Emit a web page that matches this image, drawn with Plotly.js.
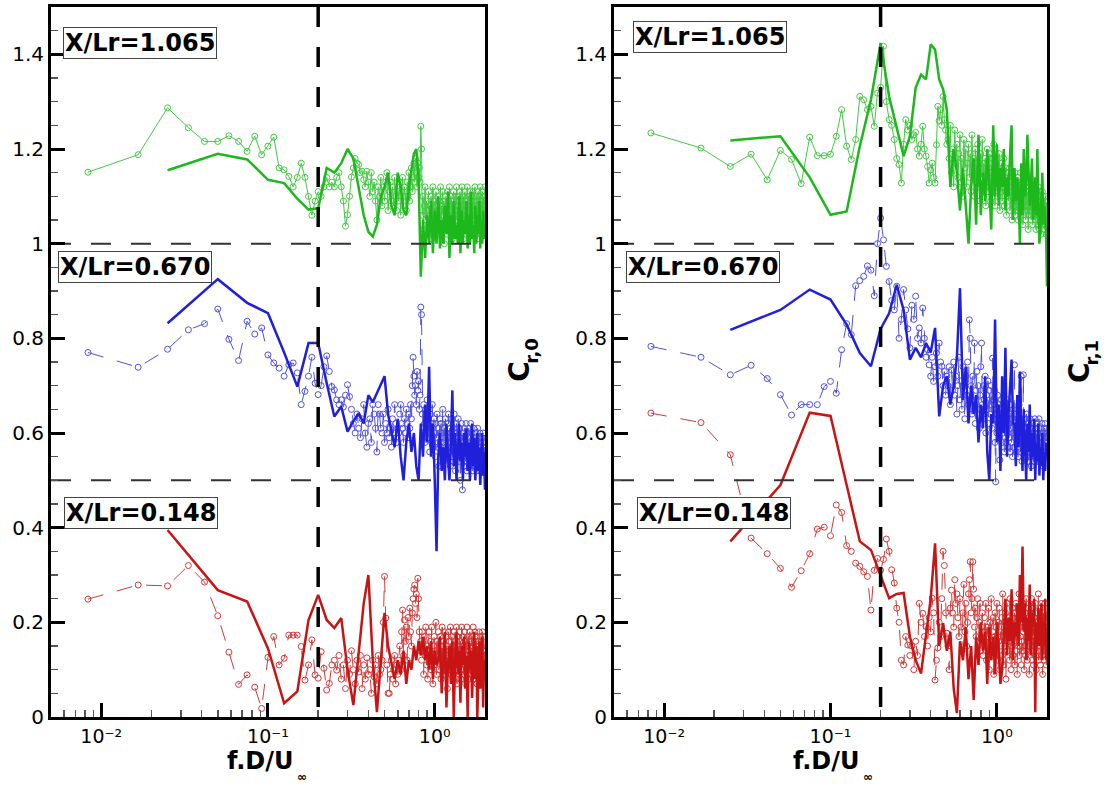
<!DOCTYPE html>
<html><head><meta charset="utf-8">
<script src="https://cdn.plot.ly/plotly-3.0.1.min.js"></script>
<style>html,body{margin:0;padding:0;background:#fff}#chart{width:1108px;height:789px}</style>
</head><body><div id="chart"></div>
<script>
// ---- frequency bins (f.D/U) ----
const MARK_F0 = 0.00833, MARK_DF = 0.00833;   // spectrum with circle markers
const LINE_F0 = 0.025,   LINE_DF = 0.025;     // spectrum drawn as thick line
const X_MIN = 0.005, X_MAX = 2;
const Y_MIN = 0, Y_MAX = 1.5;
const REF_FREQ = 0.2;
const OFFSET_LEVELS = [0.5, 1.0];
const xTickVals = [0.01, 0.1, 1];
const xTickText = ['10\u207B\u00B2', '10\u207B\u00B9', '10\u2070'];
const yTickVals = [0,0.2,0.4,0.6,0.8,1,1.2,1.4];
const stations = ['X/Lr=1.065', 'X/Lr=0.670', 'X/Lr=0.148'];
const yTitleMain = 'C';
const yTitleSubs = ['r,0', 'r,1'];
const xTitleMain = 'f.D/U';
const xTitleSub = '\u221E';

// ---- left panel C_r,0 ----
const L_green_mark = [
1.151,1.188,1.287,1.245,1.216,1.216,1.228,1.216,1.195,1.227,
1.188,1.206,1.225,1.160,1.156,1.142,1.12,1.14,1.17,1.14,
1.10,1.06,1.09,1.11,1.10,1.12,1.14,1.12,1.13,1.12,
1.14,1.15,1.12,1.09,1.037,1.061,1.10,1.141,1.16,1.18,
1.17,1.167,1.15,1.153,1.135,1.12,1.153,1.13,1.10,1.15,
1.11,1.13,1.09,1.05,1.12,1.10,1.14,1.08,1.12,1.09,
1.13,1.15,1.07,1.11,1.13,1.09,1.12,1.08,1.14,1.10,
1.07,1.11,1.09,1.13,1.06,1.11,1.14,1.08,1.12,1.10,
1.07,1.13,1.10,1.15,1.09,1.12,1.16,1.11,1.14,1.17,
1.13,1.18,1.15,1.12,1.17,1.14,1.16,1.13,1.248,1.20,
1.06,1.10,1.03,1.08,1.12,1.05,1.09,1.02,1.07,1.11,
1.04,1.08,1.06,1.10,1.01,1.07,1.12,1.05,1.09,1.03,
1.08,1.11,1.04,1.06,1.10,1.02,1.07,1.09,1.05,1.12,
1.03,1.08,1.06,1.11,1.04,1.09,1.00,1.07,1.10,1.05,
1.08,1.02,1.11,1.06,1.09,1.04,1.12,1.07,1.03,1.10,
1.06,1.09,1.01,1.08,1.05,1.11,1.04,1.07,1.10,1.03,
1.08,1.12,1.05,1.07,1.02,1.10,1.06,1.09,1.04,1.11,
1.07,1.03,1.09,1.05,1.12,1.06,1.08,1.01,1.10,1.04,
1.07,1.11,1.05,1.09,1.03,1.08,1.06,1.12,1.04,1.07,
1.10,1.02,1.08,1.05,1.11,1.06,1.09,1.03,1.07,1.10,
1.05,1.08,1.02,1.11,1.06,1.09,1.04,1.07,1.12,1.05,
1.08,1.03,1.10,1.06,1.09,1.01,1.07,1.11,1.04,1.08,
1.05,1.10,1.03,1.07,1.12,1.06,1.02,1.09,1.05,1.08,
1.11,1.04,1.07,1.03,1.09,1.06,1.10,1.02,1.08,1.12];
const L_green_line = [
1.155,1.19,1.178,1.135,1.128,1.095,1.072,1.075,1.16,1.15,
1.17,1.20,1.18,1.12,1.06,1.025,1.015,1.04,1.10,1.12,
1.15,1.08,1.06,1.15,1.12,1.07,1.06,1.12,1.16,1.19,
1.20,1.14,0.93,1.05,0.97,1.06,1.00,1.09,0.98,1.07,
1.00,1.10,0.99,1.05,1.00,1.08,1.02,1.11,0.97,1.06,
1.00,1.09,1.01,1.04,1.00,1.10,0.98,1.07,1.00,1.05,
1.02,1.09,0.99,1.06,1.00,1.11,1.01,1.04,0.98,1.08,
1.00,1.06,1.02,1.09,0.99,1.05,1.00,1.07,1.01,1.04];
const L_blue_mark = [
0.770,0.739,0.777,0.818,0.831,0.862,0.798,0.753,0.836,0.809,
0.822,0.765,0.748,0.737,0.72,0.744,0.748,0.727,0.66,0.688,
0.72,0.76,0.705,0.681,0.70,0.74,0.763,0.73,0.698,0.691,
0.67,0.66,0.67,0.655,0.68,0.702,0.677,0.65,0.62,0.60,
0.64,0.61,0.59,0.63,0.66,0.60,0.57,0.62,0.63,0.58,
0.66,0.64,0.61,0.56,0.66,0.64,0.61,0.60,0.64,0.58,
0.62,0.60,0.65,0.59,0.61,0.57,0.63,0.60,0.66,0.62,
0.58,0.61,0.60,0.64,0.66,0.62,0.61,0.58,0.63,0.60,
0.65,0.62,0.59,0.64,0.61,0.66,0.63,0.70,0.76,0.72,
0.68,0.70,0.66,0.73,0.69,0.71,0.65,0.68,0.866,0.85,
0.64,0.60,0.66,0.62,0.58,0.65,0.61,0.67,0.59,0.63,
0.60,0.56,0.64,0.61,0.58,0.66,0.62,0.57,0.63,0.60,
0.55,0.62,0.59,0.64,0.57,0.61,0.53,0.60,0.63,0.58,
0.62,0.56,0.60,0.65,0.58,0.54,0.61,0.59,0.63,0.57,
0.60,0.55,0.62,0.58,0.64,0.56,0.59,0.61,0.53,0.60,
0.57,0.63,0.59,0.55,0.61,0.58,0.64,0.56,0.60,0.52,
0.58,0.62,0.55,0.60,0.57,0.63,0.59,0.54,0.61,0.57,
0.50,0.59,0.55,0.62,0.58,0.48,0.56,0.60,0.57,0.53,
0.61,0.56,0.59,0.54,0.62,0.57,0.52,0.60,0.56,0.58,
0.55,0.61,0.57,0.53,0.59,0.56,0.62,0.54,0.58,0.55,
0.60,0.57,0.52,0.58,0.55,0.61,0.56,0.53,0.59,0.57,
0.54,0.60,0.56,0.58,0.52,0.57,0.61,0.55,0.58,0.53,
0.59,0.56,0.54,0.60,0.57,0.52,0.58,0.55,0.59,0.56,
0.53,0.58,0.55,0.60,0.54,0.57,0.52,0.58,0.55,0.56];
const L_blue_line = [
0.832,0.925,0.875,0.853,0.77,0.698,0.79,0.79,0.705,0.635,
0.656,0.603,0.625,0.642,0.62,0.68,0.665,0.684,0.70,0.72,
0.64,0.60,0.57,0.63,0.55,0.50,0.58,0.62,0.56,0.60,
0.53,0.50,0.62,0.55,0.66,0.58,0.74,0.55,0.62,0.50,
0.35,0.55,0.60,0.52,0.57,0.50,0.62,0.55,0.50,0.58,
0.69,0.53,0.60,0.50,0.56,0.62,0.54,0.58,0.50,0.60,
0.55,0.61,0.52,0.58,0.50,0.57,0.62,0.53,0.59,0.50,
0.56,0.60,0.52,0.57,0.49,0.55,0.60,0.51,0.56,0.48];
const L_red_mark = [
0.249,0.279,0.277,0.32,0.285,0.214,0.137,0.069,0.089,0.063,
0.018,0.126,0.17,0.11,0.124,0.173,0.173,0.173,0.149,0.078,
0.11,0.163,0.089,0.082,0.138,0.103,0.057,0.071,0.11,0.12,
0.099,0.13,0.08,0.11,0.06,0.12,0.09,0.14,0.10,0.07,
0.12,0.095,0.13,0.06,0.11,0.08,0.125,0.09,0.10,0.05,
0.12,0.085,0.11,0.07,0.13,0.09,0.10,0.12,0.20,0.297,
0.209,0.11,0.05,0.05,0.09,0.12,0.08,0.10,0.13,0.07,
0.11,0.09,0.12,0.15,0.10,0.18,0.226,0.13,0.205,0.16,
0.19,0.12,0.21,0.17,0.23,0.18,0.15,0.22,0.25,0.27,
0.279,0.24,0.26,0.21,0.293,0.25,0.18,0.14,0.16,0.12,
0.18,0.14,0.09,0.17,0.13,0.19,0.11,0.15,0.08,0.14,
0.18,0.12,0.16,0.10,0.19,0.13,0.07,0.15,0.17,0.11,
0.14,0.20,0.09,0.16,0.12,0.18,0.10,0.14,0.13,0.17,
0.08,0.15,0.19,0.11,0.16,0.12,0.18,0.09,0.14,0.17,
0.11,0.15,0.06,0.13,0.18,0.10,0.16,0.12,0.19,0.09,
0.14,0.17,0.11,0.15,0.08,0.13,0.18,0.12,0.16,0.10,
0.14,0.19,0.07,0.13,0.17,0.11,0.15,0.09,0.18,0.12,
0.16,0.08,0.14,0.19,0.10,0.15,0.12,0.17,0.09,0.13,
0.18,0.11,0.16,0.07,0.14,0.12,0.19,0.10,0.15,0.13,
0.17,0.08,0.14,0.11,0.18,0.12,0.16,0.09,0.13,0.17,
0.10,0.15,0.12,0.19,0.08,0.14,0.16,0.11,0.18,0.09,
0.13,0.15,0.11,0.17,0.07,0.14,0.12,0.16,0.10,0.15,
0.18,0.12,0.09,0.14,0.17,0.11,0.13,0.16,0.08,0.15,
0.12,0.18,0.10,0.14,0.11,0.17,0.09,0.13,0.15,0.12];
const L_red_line = [
0.395,0.268,0.244,0.145,0.029,0.054,0.205,0.258,0.205,0.188,
0.209,0.10,0.025,0.13,0.24,0.30,0.12,0.01,0.12,0.22,
0.15,0.11,0.08,0.12,0.09,0.14,0.07,0.12,0.10,0.15,
0.12,0.16,0.13,0.17,0.12,0.15,0.10,0.16,0.08,0.14,
0.11,0.12,0.17,0.05,0.13,0.18,0.02,0.11,0.15,0.07,
0.16,0.00,0.12,0.18,0.09,0.14,0.03,0.15,0.11,0.17,
0.06,0.13,0.00,0.16,0.10,0.14,0.04,0.12,0.18,0.08,
0.15,0.00,0.11,0.16,0.06,0.13,0.17,0.02,0.12,0.10];

// ---- right panel C_r,1 ----
const R_green_mark = [
1.234,1.202,1.163,1.189,1.135,1.197,1.178,1.127,1.225,1.186,
1.186,1.189,1.227,1.283,1.206,1.178,1.22,1.311,1.304,1.283,
1.29,1.248,1.318,1.33,1.417,1.30,1.262,1.25,1.22,1.18,
1.167,1.128,1.21,1.262,1.24,1.25,1.22,1.23,1.235,1.20,
1.185,1.21,1.248,1.20,1.185,1.163,1.128,1.156,1.17,1.14,
1.128,1.209,1.29,1.26,1.283,1.25,1.311,1.262,1.24,1.21,
1.22,1.18,1.25,1.15,1.20,1.12,1.24,1.17,1.21,1.14,
1.19,1.23,1.13,1.18,1.10,1.22,1.16,1.20,1.12,1.17,
1.21,1.14,1.19,1.11,1.23,1.15,1.18,1.10,1.20,1.13,
1.17,1.21,1.12,1.16,1.09,1.19,1.14,1.22,1.11,1.17,
1.13,1.18,1.08,1.15,1.20,1.11,1.16,1.13,1.19,1.09,
1.15,1.12,1.18,1.10,1.21,1.14,1.08,1.17,1.12,1.15,
1.10,1.16,1.13,1.19,1.07,1.14,1.11,1.17,1.09,1.15,
1.12,1.18,1.08,1.14,1.11,1.16,1.06,1.13,1.10,1.15,
1.09,1.13,1.16,1.07,1.12,1.10,1.15,1.05,1.11,1.14,
1.08,1.12,1.09,1.15,1.06,1.11,1.13,1.07,1.10,1.14,
1.05,1.12,1.09,1.13,1.07,1.11,1.15,1.06,1.10,1.08,
1.13,1.04,1.11,1.09,1.14,1.07,1.10,1.12,1.05,1.09,
1.13,1.07,1.11,1.08,1.03,1.10,1.12,1.06,1.09,1.14,
1.07,1.10,1.05,1.12,1.08,1.11,1.04,1.09,1.13,1.06,
1.10,1.07,1.12,1.05,1.09,1.03,1.11,1.08,1.06,1.10,
1.04,1.09,1.12,1.06,1.08,1.03,1.10,1.07,1.11,1.05,
1.08,1.02,1.09,1.06,1.11,1.04,1.07,1.10,1.05,1.08,
1.03,1.09,1.06,1.04,1.10,1.07,1.02,1.08,1.05,1.06];
const R_green_line = [
1.218,1.227,1.14,1.061,1.068,1.206,1.304,1.424,1.311,1.248,
1.185,1.227,1.33,1.357,1.347,1.421,1.41,1.347,1.326,1.283,
1.12,1.20,1.15,1.07,1.16,1.08,1.00,1.12,1.18,1.04,
1.23,1.06,1.15,1.09,1.20,1.12,1.03,1.25,1.10,1.21,
1.08,1.16,1.12,1.20,1.07,1.14,1.10,1.19,1.25,1.05,
1.16,1.09,1.14,1.10,1.00,1.17,1.06,1.20,1.10,1.13,
1.23,1.15,1.08,1.12,1.18,1.05,1.11,1.14,1.06,1.20,
1.09,1.00,1.03,1.10,1.15,1.04,1.08,1.06,1.02,0.91];
const R_blue_mark = [
0.783,0.760,0.723,0.743,0.715,0.681,0.638,0.66,0.66,0.66,
0.698,0.709,0.684,0.776,0.831,0.808,0.911,0.922,0.931,0.953,
0.944,0.89,1.0,1.054,1.008,0.952,0.92,0.88,0.86,0.91,
0.80,0.84,0.903,0.86,0.82,0.78,0.87,0.84,0.889,0.80,
0.822,0.79,0.864,0.80,0.76,0.776,0.744,0.72,0.76,0.709,
0.74,0.769,0.72,0.79,0.75,0.741,0.70,0.73,0.68,0.72,
0.70,0.74,0.66,0.733,0.69,0.75,0.68,0.72,0.64,0.70,
0.76,0.67,0.71,0.65,0.74,0.69,0.63,0.72,0.68,0.75,
0.66,0.839,0.80,0.70,0.64,0.72,0.67,0.79,0.62,0.69,
0.73,0.65,0.70,0.61,0.68,0.74,0.79,0.66,0.63,0.70,
0.67,0.72,0.60,0.68,0.65,0.71,0.62,0.69,0.64,0.66,
0.70,0.61,0.758,0.67,0.63,0.69,0.58,0.497,0.65,0.60,
0.68,0.62,0.66,0.59,0.543,0.64,0.61,0.67,0.58,0.63,
0.60,0.66,0.56,0.62,0.65,0.58,0.63,0.60,0.67,0.57,
0.62,0.59,0.64,0.56,0.61,0.66,0.58,0.63,0.55,0.60,
0.65,0.57,0.744,0.62,0.59,0.64,0.56,0.61,0.58,0.63,
0.55,0.60,0.66,0.58,0.62,0.56,0.61,0.72,0.59,0.54,
0.62,0.57,0.723,0.60,0.56,0.63,0.58,0.61,0.55,0.59,
0.64,0.57,0.61,0.54,0.60,0.58,0.62,0.55,0.59,0.63,
0.56,0.60,0.53,0.58,0.62,0.57,0.55,0.61,0.59,0.54,
0.60,0.57,0.63,0.55,0.58,0.61,0.56,0.59,0.54,0.62,
0.57,0.60,0.55,0.58,0.63,0.56,0.59,0.54,0.61,0.57,
0.60,0.55,0.58,0.62,0.56,0.59,0.53,0.60,0.57,0.61,
0.55,0.58,0.62,0.56,0.59,0.60,0.57,0.61,0.55,0.58];
const R_blue_line = [
0.818,0.86,0.903,0.882,0.829,0.769,0.741,0.82,0.853,0.913,
0.86,0.755,0.78,0.76,0.79,0.77,0.822,0.635,0.70,0.72,
0.66,0.70,0.76,0.906,0.67,0.74,0.62,0.70,0.64,0.68,
0.58,0.66,0.61,0.72,0.56,0.50,0.64,0.62,0.84,0.58,
0.66,0.52,0.72,0.60,0.78,0.55,0.64,0.70,0.755,0.62,
0.62,0.53,0.68,0.57,0.73,0.60,0.52,0.65,0.58,0.50,
0.62,0.56,0.66,0.52,0.60,0.55,0.63,0.50,0.58,0.54,
0.62,0.51,0.57,0.53,0.60,0.50,0.56,0.52,0.58,0.55];
const R_red_mark = [
0.642,0.622,0.554,0.378,0.345,0.314,0.274,0.309,0.345,0.397,
0.401,0.383,0.448,0.432,0.362,0.35,0.325,0.318,0.307,0.297,
0.226,0.31,0.335,0.31,0.333,0.376,0.35,0.311,0.283,0.23,
0.20,0.12,0.11,0.17,0.152,0.13,0.15,0.10,0.16,0.13,
0.24,0.20,0.219,0.17,0.191,0.15,0.21,0.18,0.251,0.22,
0.078,0.12,0.146,0.20,0.17,0.25,0.35,0.32,0.22,0.177,
0.15,0.10,0.23,0.268,0.22,0.19,0.29,0.24,0.26,0.21,
0.17,0.25,0.19,0.14,0.22,0.28,0.18,0.24,0.15,0.20,
0.26,0.29,0.328,0.22,0.25,0.328,0.27,0.19,0.23,0.17,
0.21,0.25,0.16,0.20,0.24,0.14,0.19,0.22,0.13,0.18,
0.21,0.15,0.24,0.12,0.19,0.17,0.23,0.10,0.20,0.16,
0.25,0.13,0.18,0.21,0.09,0.17,0.22,0.14,0.19,0.24,
0.12,0.20,0.16,0.23,0.10,0.18,0.15,0.21,0.13,0.26,
0.17,0.11,0.20,0.15,0.22,0.08,0.18,0.24,0.14,0.19,
0.16,0.21,0.12,0.25,0.17,0.10,0.20,0.15,0.23,0.13,
0.19,0.16,0.22,0.11,0.18,0.24,0.14,0.20,0.09,0.17,
0.21,0.15,0.26,0.13,0.19,0.17,0.23,0.11,0.20,0.16,
0.24,0.14,0.18,0.21,0.10,0.19,0.15,0.22,0.13,0.25,
0.17,0.20,0.12,0.18,0.23,0.15,0.19,0.09,0.21,0.16,
0.22,0.14,0.18,0.25,0.12,0.20,0.16,0.23,0.11,0.19,
0.15,0.21,0.17,0.24,0.13,0.18,0.10,0.20,0.16,0.22,
0.14,0.19,0.26,0.12,0.17,0.21,0.15,0.23,0.11,0.18,
0.20,0.16,0.24,0.13,0.19,0.09,0.17,0.22,0.15,0.21,
0.12,0.18,0.24,0.16,0.20,0.14,0.19,0.11,0.17,0.21];
const R_red_line = [
0.371,0.49,0.643,0.636,0.49,0.371,0.353,0.30,0.251,0.26,
0.262,0.17,0.12,0.092,0.17,0.25,0.367,0.15,0.198,0.14,
0.18,0.06,0.008,0.16,0.12,0.19,0.08,0.15,0.036,0.17,
0.11,0.20,0.14,0.18,0.07,0.19,0.12,0.17,0.09,0.20,
0.14,0.07,0.10,0.18,0.25,0.13,0.21,0.16,0.27,0.12,
0.20,0.17,0.24,0.15,0.30,0.20,0.36,0.18,0.24,0.12,
0.21,0.16,0.28,0.13,0.22,0.19,0.25,0.01,0.20,0.15,
0.23,0.15,0.18,0.24,0.12,0.20,0.15,0.25,0.12,0.18];

// ---- colours ----
const C = {
  gLine:'#1cb81c', gMark:'#44c844',
  bLine:'#1f1fdc', bMark:'#5050e0',
  rLine:'#c81414', rMark:'#d23a3a'
};
const FONT = 'DejaVu Sans, Liberation Sans, Arial, sans-serif';

function markTrace(y, xa, ya, color, dash) {
  return {type:'scatter', mode:'lines+markers', x0:MARK_F0, dx:MARK_DF, y:y, xaxis:xa, yaxis:ya,
    line:{color:color, width:1, dash:dash},
    marker:{symbol:'circle-open', size:6, color:color, line:{width:1, color:color}},
    showlegend:false, hoverinfo:'skip'};
}
function lineTrace(y, xa, ya, color) {
  return {type:'scatter', mode:'lines', x0:LINE_F0, dx:LINE_DF, y:y, xaxis:xa, yaxis:ya,
    line:{color:color, width:2.5}, showlegend:false, hoverinfo:'skip'};
}
function refTraces(xa, ya) {
  const t = [];
  OFFSET_LEVELS.forEach(v => t.push({type:'scatter', mode:'lines', x:[X_MIN, X_MAX], y:[v, v],
    xaxis:xa, yaxis:ya, line:{color:'#333', width:2, dash:'20px,20px'}, showlegend:false, hoverinfo:'skip'}));
  t.push({type:'scatter', mode:'lines', x:[REF_FREQ, REF_FREQ], y:[Y_MAX, Y_MIN],
    xaxis:xa, yaxis:ya, line:{color:'#000', width:3.5, dash:'20px,20px'}, showlegend:false, hoverinfo:'skip'});
  return t;
}

const data = [
  markTrace(L_green_mark, 'x', 'y', C.gMark, 'solid'),
  markTrace(L_blue_mark, 'x', 'y', C.bMark, '16px,14px'),
  markTrace(L_red_mark, 'x', 'y', C.rMark, '16px,14px'),
  lineTrace(L_green_line, 'x', 'y', C.gLine),
  lineTrace(L_blue_line, 'x', 'y', C.bLine),
  lineTrace(L_red_line, 'x', 'y', C.rLine),
  markTrace(R_green_mark, 'x2', 'y2', C.gMark, 'solid'),
  markTrace(R_blue_mark, 'x2', 'y2', C.bMark, '16px,14px'),
  markTrace(R_red_mark, 'x2', 'y2', C.rMark, '16px,14px'),
  lineTrace(R_green_line, 'x2', 'y2', C.gLine),
  lineTrace(R_blue_line, 'x2', 'y2', C.bLine),
  lineTrace(R_red_line, 'x2', 'y2', C.rLine)
].concat(refTraces('x', 'y'), refTraces('x2', 'y2'));

function xAxis(domain, anchor) {
  return {type:'log', range:[Math.log10(X_MIN), Math.log10(X_MAX)], domain:domain, anchor:anchor,
    showline:true, linecolor:'#000', linewidth:3, mirror:true, showgrid:false, zeroline:false,
    ticks:'inside', ticklen:14, tickwidth:3, tickcolor:'#000',
    tickmode:'array', tickvals:xTickVals, ticktext:xTickText,
    tickfont:{family:FONT, size:19, color:'#000'},
    minor:{dtick:'D1', ticks:'inside', ticklen:7, tickwidth:1.5, tickcolor:'#555', showgrid:false}};
}
function yAxis(anchor) {
  return {range:[Y_MIN, Y_MAX], domain:[0, 1], anchor:anchor,
    showline:true, linecolor:'#000', linewidth:3, mirror:true, showgrid:false, zeroline:false,
    ticks:'inside', ticklen:14, tickwidth:3, tickcolor:'#000',
    tickmode:'array', tickvals:yTickVals,
    tickfont:{family:FONT, size:20, color:'#000'},
    minor:{tickmode:'linear', tick0:0, dtick:0.05, ticks:'inside', ticklen:7, tickwidth:1.5, tickcolor:'#555', showgrid:false}};
}

function boxLabel(text, xref, yref, x, y) {
  return {text:text, xref:xref, yref:yref, x:x, y:y, xanchor:'left', yanchor:'middle',
    showarrow:false, bgcolor:'#fff', bordercolor:'#444', borderwidth:1, borderpad:1,
    font:{family:FONT, size:24, color:'#000', weight:'bold'}};
}
function paperText(text, x, y, size, angle) {
  return {text:text, xref:'paper', yref:'paper', x:x, y:y, xanchor:'center', yanchor:'middle',
    textangle:angle, showarrow:false, font:{family:FONT, size:size, color:'#000', weight:'bold'}};
}

const annotations = [
  boxLabel(stations[0], 'x domain', 'y', 0.027, 1.425),
  boxLabel(stations[1], 'x domain', 'y', 0.016, 0.951),
  boxLabel(stations[2], 'x domain', 'y', 0.03, 0.430),
  boxLabel(stations[0], 'x2 domain', 'y2', 0.044, 1.436),
  boxLabel(stations[1], 'x2 domain', 'y2', 0.028, 0.950),
  boxLabel(stations[2], 'x2 domain', 'y2', 0.053, 0.431),
  // y titles: C with subscript, rotated
  paperText(yTitleMain, 0.4705, 0.487, 28, -90),
  paperText(yTitleSubs[0], 0.4830, 0.516, 18, -90),
  paperText(yTitleMain, 1.0325, 0.485, 28, -90),
  paperText(yTitleSubs[1], 1.0450, 0.513, 18, -90),
  // x titles: f.D/U with infinity subscript
  paperText(xTitleMain, 0.2103, -0.0620, 24, 0),
  paperText(xTitleSub, 0.2520, -0.0840, 12, 0),
  paperText(xTitleMain, 0.7786, -0.0620, 24, 0),
  paperText(xTitleSub, 0.8200, -0.0840, 12, 0)
];

const layout = {
  width:1108, height:789,
  margin:{l:51, r:61, t:7, b:72, pad:0},
  paper_bgcolor:'#fff', plot_bgcolor:'#fff',
  showlegend:false,
  xaxis:xAxis([0, 0.4357], 'y'),
  yaxis:yAxis('x'),
  xaxis2:xAxis([0.5653, 1], 'y2'),
  yaxis2:yAxis('x2'),
  annotations:annotations
};

Plotly.newPlot('chart', data, layout, {displayModeBar:false, staticPlot:true});
</script>
</body></html>
